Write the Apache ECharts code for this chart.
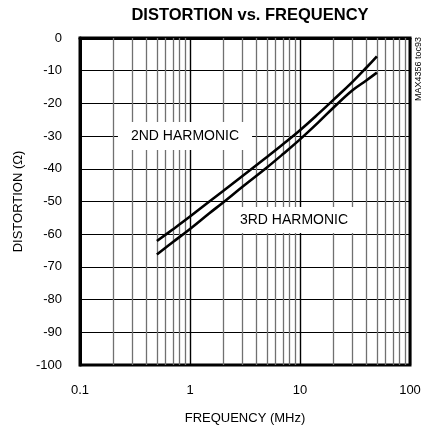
<!DOCTYPE html>
<html>
<head>
<meta charset="utf-8">
<script src="https://cdn.jsdelivr.net/npm/echarts@6/dist/echarts.min.js"></script>
<style>
html,body{margin:0;padding:0;background:#fff;}
#chart{width:432px;height:430px;}
</style>
</head>
<body>
<div id="chart"></div>
<script>
var frequencies = [0.5, 0.7, 1, 1.5, 2, 3, 5, 7, 10, 15, 20, 30, 40, 50];
var harmonic2 = [-62.1, -58.5, -54.6, -50.0, -46.8, -42.2, -36.4, -32.5, -28.2, -22.9, -19.0, -13.4, -9.1, -5.6];
var harmonic3 = [-66.2, -62.4, -58.4, -53.6, -50.3, -45.5, -39.6, -35.5, -31.0, -25.5, -21.4, -16.0, -13.0, -10.6];
var minorFreqs = [0.2,0.3,0.4,0.5,0.6,0.7,0.8,0.9,2,3,4,5,6,7,8,9,20,30,40,50,60,70,80,90];
var yTicks = [0,-10,-20,-30,-40,-50,-60,-70,-80,-90,-100];

var font = '"Liberation Sans", Arial, sans-serif';
var chart = echarts.init(document.getElementById('chart'), null, {renderer:'canvas'});

function pairs(xs, ys){ return xs.map(function(x,i){ return [x, ys[i]]; }); }

var option = {
  backgroundColor: '#fff',
  animation: false,
  title: {
    text: 'DISTORTION vs. FREQUENCY',
    left: 245, top: 2, textAlign: 'center',
    textStyle: {fontFamily: font, fontSize: 16.5, fontWeight: 'bold', color: '#000'}
  },
  grid: {left: 80, right: 22, top: 38, bottom: 65, show: true, borderColor: '#000', borderWidth: 3, backgroundColor: 'transparent'},
  xAxis: {
    type: 'log', logBase: 10, min: 0.1, max: 100,
    name: 'FREQUENCY (MHz)', nameLocation: 'middle', nameGap: 47,
    nameTextStyle: {fontFamily: font, fontSize: 13, color: '#000'},
    axisLine: {show: true, lineStyle: {color: '#000', width: 3}},
    axisTick: {show: false},
    axisLabel: {fontFamily: font, fontSize: 13, color: '#000', margin: 19,
      formatter: function(v){ return String(v); }},
    splitLine: {show: true, lineStyle: {color: '#000', width: 1.4}}
  },
  yAxis: {
    type: 'value', min: -100, max: 0, interval: 10,
    name: 'DISTORTION (\u03A9)', nameLocation: 'middle', nameGap: 36,
    nameTextStyle: {fontFamily: font, fontSize: 13, color: '#000'},
    axisLine: {show: true, lineStyle: {color: '#000', width: 3}},
    axisTick: {show: false},
    axisLabel: {fontFamily: font, fontSize: 13, color: '#000', margin: 18,
      formatter: function(v){ return yTicks.indexOf(v) >= 0 ? String(v) : ''; }},
    splitLine: {show: true, lineStyle: {color: '#000', width: 1}}
  },
  series: [
    {
      name: '2ND HARMONIC', type: 'line', data: pairs(frequencies, harmonic2),
      smooth: 0.4, symbol: 'none', z: 5,
      lineStyle: {color: '#000', width: 2.6},
      markLine: {
        silent: true, symbol: 'none', label: {show: false}, z: 1,
        lineStyle: {color: '#707070', width: 1.3, type: 'solid'},
        data: minorFreqs.map(function(f){ return {xAxis: f}; })
      }
    },
    {
      name: '3RD HARMONIC', type: 'line', data: pairs(frequencies, harmonic3),
      smooth: 0.4, symbol: 'none', z: 5,
      lineStyle: {color: '#000', width: 2.6}
    }
  ],
  graphic: [
    {type: 'text', x: 185, y: 136, z: 100,
      style: {text: '2ND HARMONIC', font: '14px ' + font, fill: '#000', align: 'center', verticalAlign: 'middle',
        backgroundColor: '#fff', padding: [7, 13]}},
    {type: 'text', x: 294, y: 220, z: 100,
      style: {text: '3RD HARMONIC', font: '14px ' + font, fill: '#000', align: 'center', verticalAlign: 'middle',
        backgroundColor: '#fff', padding: [6, 8]}},
    {type: 'text', x: 419, y: 69, rotation: Math.PI/2, z: 100,
      style: {text: 'MAX4356 toc93', font: '9px ' + font, fill: '#000', align: 'center', verticalAlign: 'middle'}}
  ]
};
chart.setOption(option);
</script>
</body>
</html>
